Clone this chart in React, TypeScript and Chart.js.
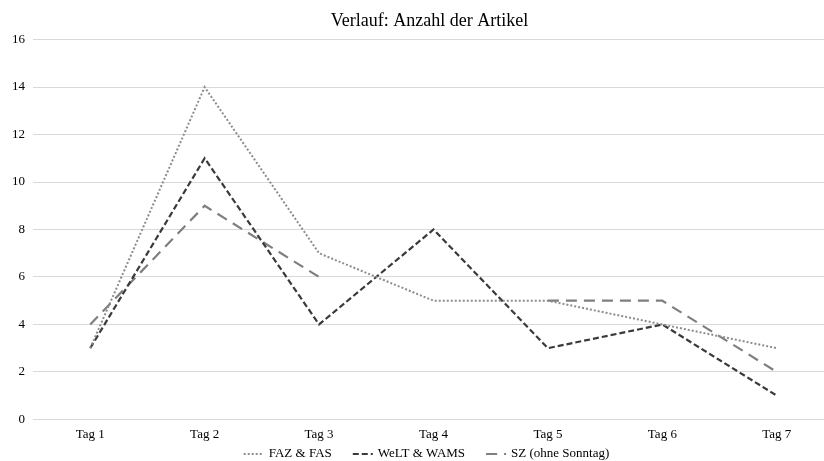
import React, { useEffect, useRef } from "react";
import { Chart, registerables } from "chart.js";

Chart.register(...registerables);

const categories = ["Tag 1", "Tag 2", "Tag 3", "Tag 4", "Tag 5", "Tag 6", "Tag 7"];
const fazValues = [3, 14, 7, 5, 5, 4, 3];
const weltValues = [3, 11, 4, 8, 3, 4, 1];
const szValues: (number | null)[] = [4, 9, 6, null, 5, 5, 2];
const seriesNames = ["FAZ & FAS", "WeLT & WAMS", "SZ (ohne Sonntag)"];
const titleText = "Verlauf: Anzahl der Artikel";

const FONT = "'Liberation Serif', 'Times New Roman', serif";

const bottomLegend = {
  id: "bottomLegend",
  afterDraw(chart: any) {
    const ctx = chart.ctx as CanvasRenderingContext2D;
    const datasets = chart.data.datasets;
    ctx.save();
    ctx.font = `13px ${FONT}`;
    const sample = 20;
    const gapText = 5;
    const gapItem = 21;
    const widths = datasets.map((d: any) => ctx.measureText(d.label).width);
    let total = 0;
    widths.forEach((w: number, i: number) => {
      total += sample + gapText + w + (i < widths.length - 1 ? gapItem : 0);
    });
    const centerX = (chart.chartArea.left + chart.chartArea.right) / 2 - 7;
    let x = centerX - total / 2;
    const y = 454;
    datasets.forEach((d: any, i: number) => {
      ctx.beginPath();
      ctx.strokeStyle = d.borderColor;
      ctx.lineWidth = d.borderWidth;
      ctx.setLineDash(d.borderDash || []);
      ctx.moveTo(x, y);
      ctx.lineTo(x + sample, y);
      ctx.stroke();
      ctx.setLineDash([]);
      ctx.fillStyle = "#000";
      ctx.textBaseline = "middle";
      ctx.textAlign = "left";
      ctx.fillText(d.label, x + sample + gapText, y);
      x += sample + gapText + widths[i] + gapItem;
    });
    ctx.restore();
  },
};

export default function App() {
  const ref = useRef<HTMLCanvasElement | null>(null);

  useEffect(() => {
    if (!ref.current) return;
    const chart = new Chart(ref.current, {
      type: "line",
      data: {
        labels: categories,
        datasets: [
          {
            label: seriesNames[0],
            data: fazValues,
            borderColor: "#8c8c8c",
            borderWidth: 2,
            borderDash: [2, 2],
            pointRadius: 0,
            tension: 0,
            fill: false,
          },
          {
            label: seriesNames[1],
            data: weltValues,
            borderColor: "#3a3a3a",
            borderWidth: 2.2,
            borderDash: [6, 3],
            pointRadius: 0,
            tension: 0,
            fill: false,
          },
          {
            label: seriesNames[2],
            data: szValues,
            borderColor: "#7f7f7f",
            borderWidth: 2.2,
            borderDash: [11, 7],
            pointRadius: 0,
            tension: 0,
            spanGaps: false,
            fill: false,
          },
        ],
      },
      plugins: [bottomLegend],
      options: {
        responsive: false,
        animation: false,
        layout: { padding: { left: 0, right: 0, top: 0, bottom: 12 } },
        plugins: {
          title: {
            display: true,
            text: titleText,
            color: "#000",
            font: { family: FONT, size: 18, weight: "normal" },
            padding: { top: 10, bottom: 8 },
          },
          legend: { display: false },
          tooltip: { enabled: false },
        },
        scales: {
          x: {
            offset: true,
            grid: { display: false, drawTicks: false, offset: true },
            border: { display: false },
            ticks: { color: "#000", font: { family: FONT, size: 13 }, padding: 7 },
          },
          y: {
            min: 0,
            max: 16,
            afterFit: (scale: any) => {
              scale.width = 33;
            },
            grid: { color: "#d9d9d9", lineWidth: 1, drawTicks: false },
            border: { display: false },
            ticks: { stepSize: 2, color: "#000", font: { family: FONT, size: 13 }, padding: 8 },
          },
          yRight: {
            position: "right",
            display: true,
            min: 0,
            max: 16,
            afterFit: (scale: any) => {
              scale.width = 25;
            },
            grid: { display: false, drawTicks: false },
            border: { display: false },
            ticks: { display: false },
          },
        },
      },
    });
    return () => chart.destroy();
  }, []);

  return (
    <div
      style={{
        position: "fixed",
        left: 0,
        top: 0,
        width: 824,
        height: 461,
        overflow: "hidden",
        background: "#fff",
      }}
    >
      <canvas ref={ref} width={859} height={461} style={{ width: 859, height: 461, display: "block" }} />
    </div>
  );
}
